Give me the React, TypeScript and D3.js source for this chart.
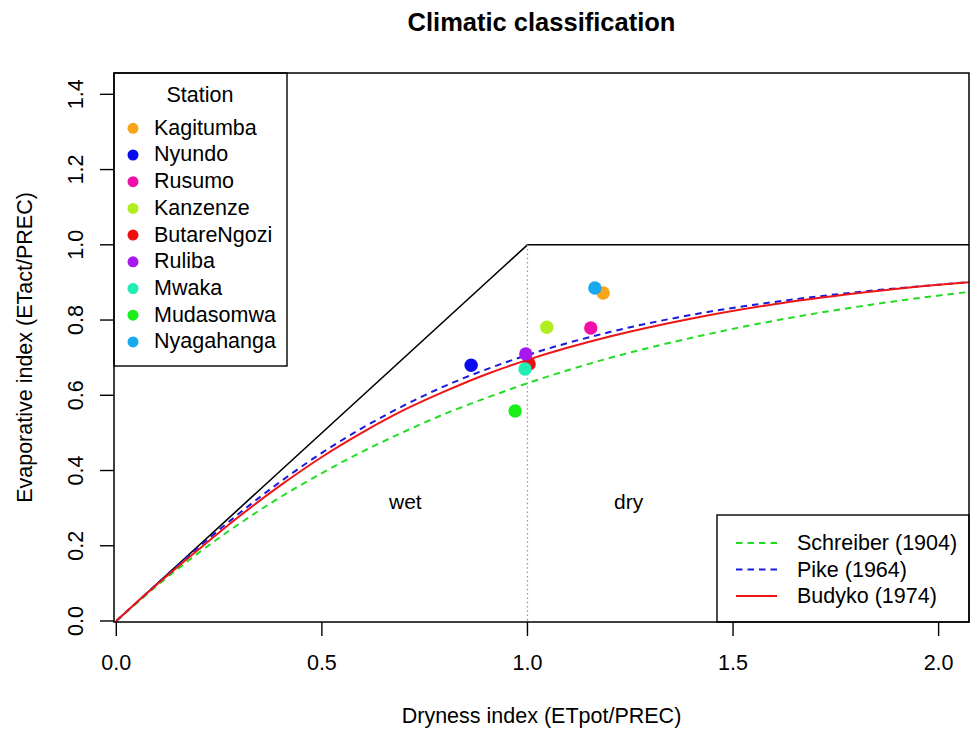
import React from 'react'
import * as d3 from 'd3'

/* canvas size and the plot box (R base graphics look) */
const width = 970
const height = 731
const box = { left: 114, right: 969, top: 73, bottom: 622 }
const font = '"Liberation Sans", Arial, Helvetica, sans-serif'

/* stations, in legend / drawing order */
const stations = [
    'Kagitumba',
    'Nyundo',
    'Rusumo',
    'Kanzenze',
    'ButareNgozi',
    'Ruliba',
    'Mwaka',
    'Mudasomwa',
    'Nyagahanga',
]
const stationColors = [
    '#f9a51a',
    '#0a0aee',
    '#f010a8',
    '#b0ee20',
    '#ee1010',
    '#a818ee',
    '#20eeb4',
    '#18ee18',
    '#18a8f0',
]
const dryness = [1.184, 0.863, 1.154, 1.047, 1.004, 0.996, 0.994, 0.97, 1.164]
const evaporative = [0.872, 0.68, 0.779, 0.781, 0.683, 0.71, 0.67, 0.558, 0.885]

/* the three reference curves */
const curveX = [0, 0.1, 0.2, 0.3, 0.4, 0.5, 0.6, 0.7, 0.8, 0.9, 1.0, 1.2, 1.4, 1.6, 1.8, 2.0, 2.1]
const schreiber = [0, 0.095, 0.181, 0.259, 0.33, 0.393, 0.451, 0.503, 0.551, 0.593, 0.632, 0.699, 0.753, 0.798, 0.835, 0.865, 0.878]
const pike = [0, 0.0995, 0.196, 0.287, 0.371, 0.447, 0.514, 0.573, 0.625, 0.669, 0.707, 0.768, 0.814, 0.848, 0.874, 0.894, 0.903]
const budyko = [0, 0.098, 0.19, 0.279, 0.361, 0.436, 0.502, 0.561, 0.611, 0.656, 0.694, 0.756, 0.804, 0.842, 0.871, 0.894, 0.903]

const curveNames = ['Schreiber (1904)', 'Pike (1964)', 'Budyko (1974)']
const curveColors = ['#22dd22', '#1a1add', '#ee1515']
const curveDash = ['6.5,5', '6.5,5', null]
const curveValues = [schreiber, pike, budyko]

/* limits: energy limit line (0,0)-(1,1) then water limit at 1 */
const limitX = [0, 1, 2.2]
const limitY = [0, 1, 1]

const xTicks = [0, 0.5, 1, 1.5, 2]
const yTicks = [0, 0.2, 0.4, 0.6, 0.8, 1.0, 1.2, 1.4]

const xScale = d3.scaleLinear().domain([-0.0056, 2.0739]).range([box.left, box.right])
const yScale = d3.scaleLinear().domain([-0.0027, 1.4567]).range([box.bottom, box.top])

const line = d3
    .line<[number, number]>()
    .x((d) => xScale(d[0]))
    .y((d) => yScale(d[1]))
const smooth = line.curve(d3.curveMonotoneX)

export default function App() {
    const limitPath = d3
        .line<number>()
        .x((d) => xScale(d))
        .y((_, i) => yScale(limitY[i]))(limitX)

    const curves = curveValues.map((vals) =>
        smooth(curveX.map((x, i) => [x, vals[i]] as [number, number]))
    )

    const rowH = 26.7
    return (
        <svg
            width={width}
            height={height}
            style={{ position: 'absolute', left: 0, top: 0, background: '#fff' }}
            fontFamily={font}
        >
            <defs>
                <clipPath id="plotClip">
                    <rect
                        x={box.left}
                        y={box.top}
                        width={box.right - box.left}
                        height={box.bottom - box.top}
                    />
                </clipPath>
            </defs>

            {/* title */}
            <text x={541.5} y={30.5} textAnchor="middle" fontSize={25.5} fontWeight="bold">
                Climatic classification
            </text>

            <g clipPath="url(#plotClip)">
                {/* energy / water limits */}
                <path d={limitPath || ''} fill="none" stroke="#000" strokeWidth={1.6} />
                {/* wet / dry divider */}
                <line
                    x1={xScale(1)}
                    x2={xScale(1)}
                    y1={yScale(1)}
                    y2={yScale(0)}
                    stroke="#999"
                    strokeWidth={1.3}
                    strokeDasharray="1.5,2.8"
                />
                {/* curves */}
                {curves.map((d, i) => (
                    <path
                        key={i}
                        d={d || ''}
                        fill="none"
                        stroke={curveColors[i]}
                        strokeWidth={2}
                        strokeDasharray={curveDash[i] || undefined}
                    />
                ))}
                {/* stations */}
                {stations.map((s, i) => (
                    <circle
                        key={s}
                        cx={xScale(dryness[i])}
                        cy={yScale(evaporative[i])}
                        r={6.7}
                        fill={stationColors[i]}
                    />
                ))}
                <text x={xScale(0.703)} y={yScale(0.316)} dy="0.35em" textAnchor="middle" fontSize={21}>
                    wet
                </text>
                <text x={xScale(1.246)} y={yScale(0.316)} dy="0.35em" textAnchor="middle" fontSize={21}>
                    dry
                </text>
            </g>

            {/* station legend */}
            <g>
                <rect x={box.left} y={box.top} width={287 - box.left} height={366 - box.top} fill="#fff" stroke="#000" strokeWidth={1.4} />
                <text x={200} y={101.5} textAnchor="middle" fontSize={21.5}>
                    Station
                </text>
                {stations.map((s, i) => (
                    <g key={s} transform={`translate(0, ${128.3 + i * rowH})`}>
                        <circle cx={133} cy={0} r={5.5} fill={stationColors[i]} />
                        <text x={154} y={0} dy="0.3em" fontSize={21.5}>
                            {s}
                        </text>
                    </g>
                ))}
            </g>

            {/* curve legend */}
            <g>
                <rect x={717} y={515} width={box.right - 717} height={box.bottom - 515} fill="#fff" stroke="#000" strokeWidth={1.4} />
                {curveNames.map((c, i) => (
                    <g key={c} transform={`translate(0, ${543 + i * 26.5})`}>
                        <line x1={736} x2={777} y1={0} y2={0} stroke={curveColors[i]} strokeWidth={2} strokeDasharray={curveDash[i] || undefined} />
                        <text x={797} y={0} dy="0.33em" fontSize={21.5}>
                            {c}
                        </text>
                    </g>
                ))}
            </g>

            {/* plot box */}
            <rect
                x={box.left}
                y={box.top}
                width={box.right - box.left}
                height={box.bottom - box.top}
                fill="none"
                stroke="#000"
                strokeWidth={1.5}
            />

            {/* x axis */}
            <g>
                {xTicks.map((t) => (
                    <g key={t}>
                        <line x1={xScale(t)} x2={xScale(t)} y1={box.bottom} y2={box.bottom + 14} stroke="#000" strokeWidth={1.4} />
                        <text x={xScale(t)} y={670} textAnchor="middle" fontSize={21.5}>
                            {t.toFixed(1)}
                        </text>
                    </g>
                ))}
                <text x={541.5} y={723} textAnchor="middle" fontSize={21.5}>
                    Dryness index (ETpot/PREC)
                </text>
            </g>

            {/* y axis */}
            <g>
                {yTicks.map((t) => (
                    <g key={t}>
                        <line x1={box.left - 14} x2={box.left} y1={yScale(t)} y2={yScale(t)} stroke="#000" strokeWidth={1.4} />
                        <text
                            transform={`translate(83, ${yScale(t)}) rotate(-90)`}
                            textAnchor="middle"
                            fontSize={21.5}
                        >
                            {t.toFixed(1)}
                        </text>
                    </g>
                ))}
                <text
                    transform={`translate(32, ${(box.top + box.bottom) / 2}) rotate(-90)`}
                    textAnchor="middle"
                    fontSize={21.5}
                >
                    Evaporative index (ETact/PREC)
                </text>
            </g>
        </svg>
    )
}
